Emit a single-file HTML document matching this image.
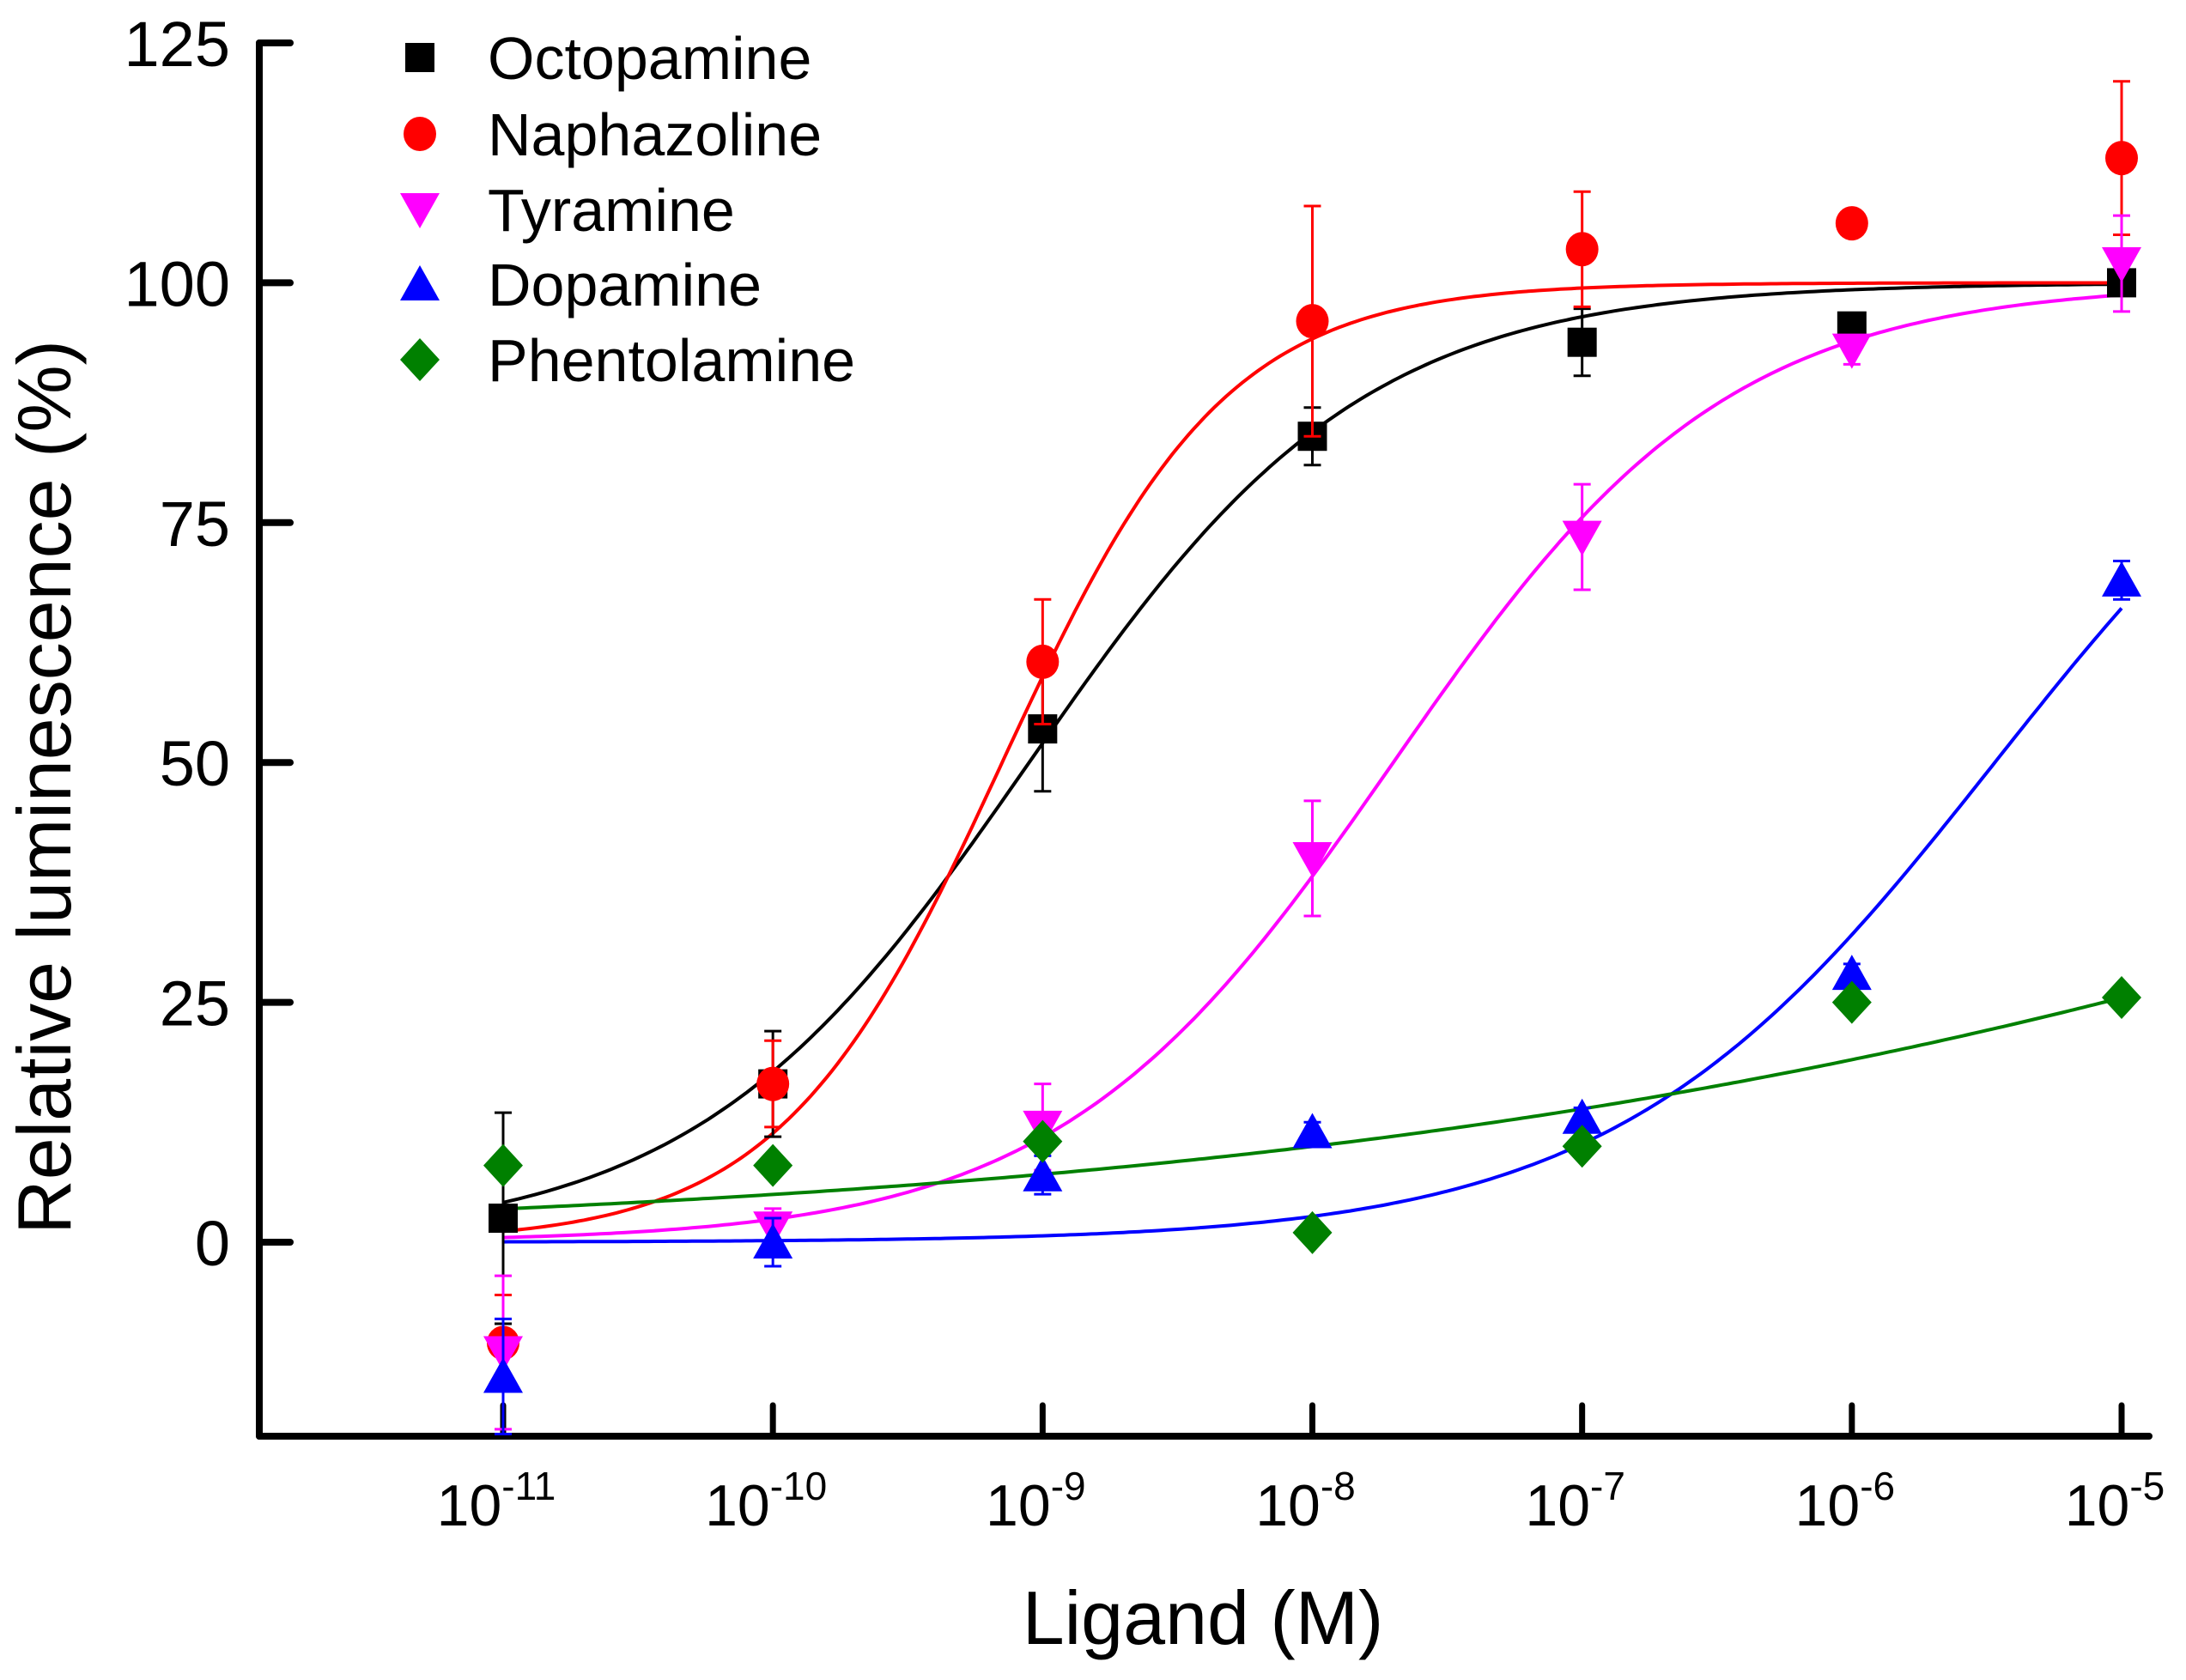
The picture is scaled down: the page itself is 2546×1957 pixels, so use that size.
<!DOCTYPE html>
<html><head><meta charset="utf-8"><style>
html,body{margin:0;padding:0;background:#fff;}
svg{display:block;font-family:"Liberation Sans",Arial,sans-serif;}
</style></head><body>
<svg id="chart" width="2546" height="1957" viewBox="0 0 2546 1957" xmlns="http://www.w3.org/2000/svg">
<rect width="2546" height="1957" fill="#fff"/>
<g id="axes"></g>
<g id="series"></g>
<g id="legend"></g>
<text x="0" y="0" transform="translate(82,917) rotate(-90)" text-anchor="middle" font-size="88">Relative luminescence (%)</text>
<text x="1401" y="1915" text-anchor="middle" font-size="88">Ligand (M)</text>
</svg>
<script>
const logDoses = [-11, -10, -9, -8, -7, -6, -5];
const yTicks = [0, 25, 50, 75, 100, 125];
const seriesNames = ["Octopamine", "Naphazoline", "Tyramine", "Dopamine", "Phentolamine"];
const octopamineY = [2.5, 16.5, 53.5, 84, 93.8, 95.5, 100];
const octopamineErr = [11, 5.5, 6.5, 3, 3.5, 1, 0.5];
const naphazolineY = [-10.5, 16.5, 60.5, 96, 103.5, 106.2, 113];
const naphazolineErr = [5, 4.5, 6.5, 12, 6, 1, 8];
const tyramineY = [-11.5, 1.5, 12, 40, 73.5, 93, 102];
const tyramineErr = [8, 2, 4.5, 6, 5.5, 1.5, 5];
const dopamineY = [-14, 0, 7, 11.5, 13, 28, 69];
const dopamineErr = [6, 2.5, 2, 1, 1, 1, 2];
const phentolamineY = [8, 8, 10.5, 1, 10, 25, 25.5];
const phentolamineErr = [0.5, 0.5, 0.5, 0.5, 0.5, 0.5, 0.5];
// Hill fit params: bottom, top, logEC50, slope
const fitBottom = [0, 0, 0, 0, 0];
const fitTop = [100, 100, 100, 100, 100];
const fitLogEC50 = [-9.05, -9.15, -7.7, -5.47, -2.14];
const fitSlope = [0.7, 1.05, 0.7, 0.616, 0.163];

const NS = "http://www.w3.org/2000/svg";
const X0 = 586, X1 = 2471, Y0 = 1447, PERUNIT = 11.176;
function xs(l){ return X0 + (l - (-11)) * (X1 - X0) / 6; }
function ys(v){ return Y0 - v * PERUNIT; }
function mk(tag, attrs, parent){ const e = document.createElementNS(NS, tag); for (const k in attrs) e.setAttribute(k, attrs[k]); parent.appendChild(e); return e; }

const axes = document.getElementById('axes');
let e = mk('line', {x1:302, y1:ys(125), x2:302, y2:1673, stroke:'#000','stroke-width':8,'stroke-linecap':'round'}, axes);


e = mk('line', {x1:302, y1:1673, x2:2503, y2:1673, stroke:'#000','stroke-width':8,'stroke-linecap':'round'}, axes);


yTicks.forEach(v => {
  const t = mk('line', {x1:302, y1:ys(v), x2:338, y2:ys(v), stroke:'#000','stroke-width':8,'stroke-linecap':'round'}, axes);
  
  
  const lb = mk('text', {x:268, y:ys(v)+27, 'text-anchor':'end','font-size':74}, axes);
  lb.textContent = v;
  
  
});
logDoses.forEach(l => {
  const t = mk('line', {x1:xs(l), y1:1673, x2:xs(l), y2:1637, stroke:'#000','stroke-width':7,'stroke-linecap':'round'}, axes);
  
  
  const lb = mk('text', {x:xs(l)-8, y:1777, 'text-anchor':'middle','font-size':68}, axes);
  
  
  lb.appendChild(document.createTextNode('10'));
  const sp = document.createElementNS(NS, 'tspan');
  sp.setAttribute('dy', '-30'); sp.setAttribute('font-size', '46');
  sp.textContent = String(l);
  lb.appendChild(sp);
});

const colors = ['#000000', '#ff0000', '#ff00ff', '#0000ff', '#008000'];
const shapes = ['square', 'circle', 'down', 'up', 'diamond'];
const ysets = [octopamineY, naphazolineY, tyramineY, dopamineY, phentolamineY];
const esets = [octopamineErr, naphazolineErr, tyramineErr, dopamineErr, phentolamineErr];
function marker(shape, cx, cy, color, parent){
  const r = 19;
  if (shape === 'square') return mk('rect', {x:cx-r+2, y:cy-r+2, width:2*r-4, height:2*r-4, fill:color}, parent);
  if (shape === 'circle') return mk('ellipse', {cx:cx, cy:cy, rx:r, ry:r+1, fill:color}, parent);
  if (shape === 'down') return mk('polygon', {points:`${cx-23},${cy-19} ${cx+23},${cy-19} ${cx},${cy+22}`, fill:color}, parent);
  if (shape === 'up') return mk('polygon', {points:`${cx-23},${cy+19} ${cx+23},${cy+19} ${cx},${cy-22}`, fill:color}, parent);
  return mk('polygon', {points:`${cx},${cy-25} ${cx+23},${cy} ${cx},${cy+25} ${cx-23},${cy}`, fill:color}, parent);
}
const series = document.getElementById('series');
seriesNames.forEach((nm, i) => {
  let d = '';
  for (let k = 0; k <= 300; k++) {
    const l = -11 + 6 * k / 300;
    const v = fitBottom[i] + (fitTop[i] - fitBottom[i]) / (1 + Math.pow(10, fitSlope[i] * (fitLogEC50[i] - l)));
    d += (k ? 'L' : 'M') + xs(l).toFixed(1) + ',' + ys(v).toFixed(1);
  }
  const p = mk('path', {d:d, fill:'none', stroke:colors[i], 'stroke-width':4}, series);
  
  
});
seriesNames.forEach((nm, i) => {
  const g = mk('g', {}, series);
  
  
  logDoses.forEach((l, j) => {
    const cx = xs(l), cy = ys(ysets[i][j]), er = esets[i][j];
    const yt = ys(ysets[i][j] + er), yb = ys(ysets[i][j] - er);
    const eb = mk('path', {d:`M${cx},${yt}L${cx},${yb}M${cx-10},${yt}L${cx+10},${yt}M${cx-10},${yb}L${cx+10},${yb}`, stroke:colors[i], 'stroke-width':3, fill:'none'}, g);
    
    
    const m = marker(shapes[i], cx, cy, colors[i], g);
    
    
  });
});

const legend = document.getElementById('legend');
const legY = [67, 156, 244, 331, 419];
seriesNames.forEach((nm, i) => {
  const g = mk('g', {}, legend);
  
  
  const m = marker(shapes[i], 489, legY[i], colors[i], g);
  
  
  const t = mk('text', {x:568, y:legY[i]+25, 'font-size':70}, g);
  t.textContent = nm;
  
  
});
</script>
</body></html>
